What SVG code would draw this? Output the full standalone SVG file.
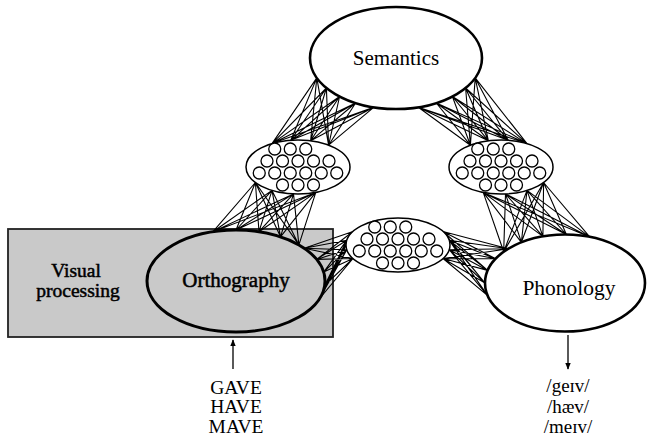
<svg xmlns="http://www.w3.org/2000/svg" xmlns:xlink="http://www.w3.org/1999/xlink" width="647" height="444" viewBox="0 0 647 444">
<style>
.t{font-family:"Liberation Serif","DejaVu Serif",serif;fill:#000;text-anchor:middle}
.big{fill:#fff;stroke:#000;stroke-width:2.6}
.unit{fill:#fff;stroke:#000;stroke-width:1.5}
.c{fill:#fff;stroke:#000;stroke-width:1.3}
.conn{fill:none;stroke:#000;stroke-width:1.1}
.thick{stroke:#000;stroke-width:0.5}
</style>
<defs>
<g id="unit">
<ellipse class="unit" cx="0" cy="0" rx="52" ry="27"/>
<circle class="c" cx="-23.25" cy="-18" r="6"/><circle class="c" cx="-7.75" cy="-18" r="6"/><circle class="c" cx="7.75" cy="-18" r="6"/>
<circle class="c" cx="-31" cy="-6" r="6"/><circle class="c" cx="-15.5" cy="-6" r="6"/><circle class="c" cx="0" cy="-6" r="6"/><circle class="c" cx="15.5" cy="-6" r="6"/><circle class="c" cx="31" cy="-6" r="6"/>
<circle class="c" cx="-38.75" cy="6" r="6"/><circle class="c" cx="-23.25" cy="6" r="6"/><circle class="c" cx="-7.75" cy="6" r="6"/><circle class="c" cx="7.75" cy="6" r="6"/><circle class="c" cx="23.25" cy="6" r="6"/><circle class="c" cx="38.75" cy="6" r="6"/>
<circle class="c" cx="-15.5" cy="18" r="6"/><circle class="c" cx="0" cy="18" r="6"/><circle class="c" cx="15.5" cy="18" r="6"/>
</g>
<marker id="ah" viewBox="0 0 10 10" refX="9" refY="5" markerWidth="7" markerHeight="7" markerUnits="userSpaceOnUse" orient="auto"><path d="M0,1 L10,5 L0,9 z" fill="#000"/></marker>
</defs>
<rect width="647" height="444" fill="#fff"/>
<g id="visual-processing">
<rect x="8" y="229" width="325" height="108" fill="#c9c9c9" stroke="#222" stroke-width="1.8"/>
<text class="t thick" x="76" y="277" font-size="19.5">Visual</text>
<text class="t thick" x="78" y="297" font-size="19.5">processing</text>
</g>
<g id="connectors" class="conn">
<path d="M373.7,107.3L272,143.6M373.7,107.3L290.8,140.3M373.7,107.3L310.6,140.8M373.7,107.3L328.6,145.2M355.6,103L272,143.6M355.6,103L290.8,140.3M355.6,103L310.6,140.8M355.6,103L328.6,145.2M339.6,96.5L272,143.6M339.6,96.5L290.8,140.3M339.6,96.5L310.6,140.8M339.6,96.5L328.6,145.2M326.4,88L272,143.6M326.4,88L290.8,140.3M326.4,88L310.6,140.8M326.4,88L328.6,145.2M316.8,77.9L272,143.6M316.8,77.9L290.8,140.3M316.8,77.9L310.6,140.8M316.8,77.9L328.6,145.2"/>
<path d="M475.2,77.9L470.4,145.2M475.2,77.9L488.4,140.8M475.2,77.9L508.2,140.3M475.2,77.9L527,143.6M465.6,88L470.4,145.2M465.6,88L488.4,140.8M465.6,88L508.2,140.3M465.6,88L527,143.6M452.4,96.5L470.4,145.2M452.4,96.5L488.4,140.8M452.4,96.5L508.2,140.3M452.4,96.5L527,143.6M436.3,103L470.4,145.2M436.3,103L488.4,140.8M436.3,103L508.2,140.3M436.3,103L527,143.6M418.3,107.3L470.4,145.2M418.3,107.3L488.4,140.8M418.3,107.3L508.2,140.3M418.3,107.3L527,143.6"/>
<path d="M213,231.7L315.8,192.4M213,231.7L293.5,193.9M213,231.7L272,190.4M213,231.7L255.4,182.5M236,230L315.8,192.4M236,230L293.5,193.9M236,230L272,190.4M236,230L255.4,182.5M259,231.7L315.8,192.4M259,231.7L293.5,193.9M259,231.7L272,190.4M259,231.7L255.4,182.5M280.5,236.8L315.8,192.4M280.5,236.8L293.5,193.9M280.5,236.8L272,190.4M280.5,236.8L255.4,182.5M298.9,244.9L315.8,192.4M298.9,244.9L293.5,193.9M298.9,244.9L272,190.4M298.9,244.9L255.4,182.5"/>
<path d="M503.7,251.8L543.6,182.5M503.7,251.8L527,190.4M503.7,251.8L505.5,193.9M503.7,251.8L483.2,192.4M521.4,242.3L543.6,182.5M521.4,242.3L527,190.4M521.4,242.3L505.5,193.9M521.4,242.3L483.2,192.4M542.9,236.4L543.6,182.5M542.9,236.4L527,190.4M542.9,236.4L505.5,193.9M542.9,236.4L483.2,192.4M566.4,234.5L543.6,182.5M566.4,234.5L527,190.4M566.4,234.5L505.5,193.9M566.4,234.5L483.2,192.4M589.7,236.9L543.6,182.5M589.7,236.9L527,190.4M589.7,236.9L505.5,193.9M589.7,236.9L483.2,192.4"/>
<path d="M304.2,248.2L353,258.5M304.2,248.2L346.8,249.7M304.2,248.2L346.8,240.3M304.2,248.2L353,231.5M316.6,259.4L353,258.5M316.6,259.4L346.8,249.7M316.6,259.4L346.8,240.3M316.6,259.4L353,231.5M323.7,272.1L353,258.5M323.7,272.1L346.8,249.7M323.7,272.1L346.8,240.3M323.7,272.1L353,231.5M324.7,285.4L353,258.5M324.7,285.4L346.8,249.7M324.7,285.4L346.8,240.3M324.7,285.4L353,231.5M319.7,298.4L353,258.5M319.7,298.4L346.8,249.7M319.7,298.4L346.8,240.3M319.7,298.4L353,231.5"/>
<path d="M487.7,295.6L443,231.5M487.7,295.6L449.2,240.3M487.7,295.6L449.2,249.7M487.7,295.6L443,258.5M485,283L443,231.5M485,283L449.2,240.3M485,283L449.2,249.7M485,283L443,258.5M487.7,270.4L443,231.5M487.7,270.4L449.2,240.3M487.7,270.4L449.2,249.7M487.7,270.4L443,258.5M495.7,258.7L443,231.5M495.7,258.7L449.2,240.3M495.7,258.7L449.2,249.7M495.7,258.7L443,258.5M508.4,248.7L443,231.5M508.4,248.7L449.2,240.3M508.4,248.7L449.2,249.7M508.4,248.7L443,258.5"/>
<line x1="233" y1="369" x2="233" y2="340" stroke="#000" stroke-width="1.3" marker-end="url(#ah)"/>
<line x1="568" y1="335" x2="568" y2="369" stroke="#000" stroke-width="1.3" marker-end="url(#ah)"/>
</g>
<g id="semantics">
<ellipse class="big" cx="396" cy="58" rx="86" ry="51"/>
<text class="t" x="396" y="65" font-size="21">Semantics</text>
</g>
<g id="orthography">
<ellipse cx="236" cy="281" rx="89" ry="51" fill="#c9c9c9" stroke="#000" stroke-width="3"/>
<text class="t thick" x="236" y="287" font-size="21">Orthography</text>
</g>
<g id="phonology">
<ellipse class="big" cx="565" cy="283" rx="80" ry="48.5"/>
<text class="t" x="569" y="295" font-size="21.5">Phonology</text>
</g>
<g id="hidden-sem-orth"><use xlink:href="#unit" href="#unit" x="298" y="167"/></g>
<g id="hidden-sem-phon"><use xlink:href="#unit" href="#unit" x="501" y="167"/></g>
<g id="hidden-orth-phon"><use xlink:href="#unit" href="#unit" x="398" y="245"/></g>
<g id="input-words">
<text class="t" x="236" y="394" font-size="19.5">GAVE</text>
<text class="t" x="236" y="413" font-size="19.5">HAVE</text>
<text class="t" x="236" y="433" font-size="19.5">MAVE</text>
</g>
<g id="output-pronunciations">
<text class="t" x="568" y="392" font-size="19">/geɪv/</text>
<text class="t" x="568" y="413" font-size="19">/hæv/</text>
<text class="t" x="568" y="433" font-size="19">/meɪv/</text>
</g>
</svg>
